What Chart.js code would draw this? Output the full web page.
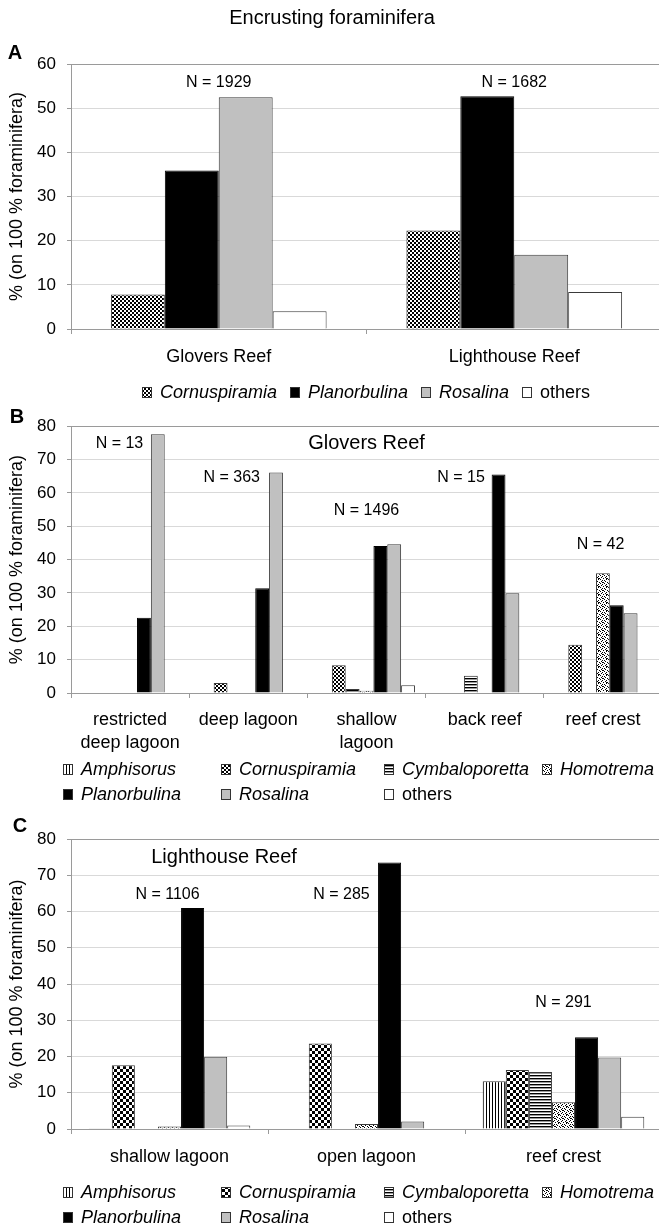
<!DOCTYPE html>
<html>
<head>
<meta charset="utf-8">
<script src="https://cdn.jsdelivr.net/npm/chart.js@4/dist/chart.umd.min.js"></script>
<style>
  html, body { margin: 0; padding: 0; background: #fff; overflow: hidden; }
  #wrap { position: relative; width: 659px; height: 1226px; overflow: hidden; }
  canvas { position: absolute; left: 0; }
</style>
</head>
<body>
<div id="wrap">
  <canvas id="chartA" width="662" height="405" style="top:0px"></canvas>
  <canvas id="chartB" width="662" height="400" style="top:405px"></canvas>
  <canvas id="chartC" width="662" height="421" style="top:805px"></canvas>
</div>
<script>
// ---- data ----
const mainTitle = "Encrusting foraminifera";
const yAxisTitle = "% (on 100 % foraminifera)";

// panel A
const categoriesA = ["Glovers Reef", "Lighthouse Reef"];
const taxaA = ["Cornuspiramia", "Planorbulina", "Rosalina", "others"];
const cornuspiramiaA = [7.8, 22.3];
const planorbulinaA = [35.9, 52.7];
const rosalinaA = [52.5, 16.8];
const othersA = [4.0, 8.4];
const countsA = ["N = 1929", "N = 1682"];
const yTicksA = [0, 10, 20, 30, 40, 50, 60];

// panel B (Glovers Reef)
const taxa = ["Amphisorus", "Cornuspiramia", "Cymbaloporetta", "Homotrema", "Planorbulina", "Rosalina", "others"];
const categoriesB = [["restricted", "deep lagoon"], "deep lagoon", ["shallow", "lagoon"], "back reef", "reef crest"];
const amphisorusB = [0, 0, 0, 0, 0];
const cornuspiramiaB = [0, 3.0, 8.3, 0, 14.5];
const cymbaloporettaB = [0, 0, 1.2, 5.2, 0];
const homotremaB = [0, 0, 0.7, 0, 35.9];
const planorbulinaB = [22.6, 31.4, 44.1, 65.5, 26.3];
const rosalinaB = [77.6, 66.1, 44.6, 29.9, 23.9];
const othersB = [0, 0, 2.3, 0, 0];
const countsB = ["N = 13", "N = 363", "N = 1496", "N = 15", "N = 42"];
const yTicksB = [0, 10, 20, 30, 40, 50, 60, 70, 80];

// panel C (Lighthouse Reef)
const categoriesC = ["shallow lagoon", "open lagoon", "reef crest"];
const amphisorusC = [0.2, 0, 13.2];
const cornuspiramiaC = [17.6, 23.6, 16.3];
const cymbaloporettaC = [0, 0, 15.7];
const homotremaC = [0.7, 1.4, 7.4];
const planorbulinaC = [61.0, 73.5, 25.3];
const rosalinaC = [19.9, 2.1, 19.7];
const othersC = [1.0, 0, 3.4];
const countsC = ["N = 1106", "N = 285", "N = 291"];
const yTicksC = [0, 10, 20, 30, 40, 50, 60, 70, 80];

// ---- styling ----
const FONT = '"Liberation Sans", Arial, sans-serif';
const INK = "#000";
const AXIS = "#9a9a9a";
Chart.defaults.font.family = FONT;
Chart.defaults.color = INK;

function tile(w, h, draw) {
  const c = document.createElement("canvas");
  c.width = w; c.height = h;
  const g = c.getContext("2d");
  g.fillStyle = "#fff"; g.fillRect(0, 0, w, h);
  g.fillStyle = "#000";
  draw(g);
  return g.createPattern(c, "repeat");
}
// speckle cells for the Homotrema fill (a fixed 8x8 tile)
const speckle = [[1, 0], [5, 0], [3, 1], [7, 1], [0, 2], [4, 2], [6, 3], [2, 3], [1, 4], [5, 4],
                 [7, 5], [3, 5], [0, 6], [6, 6], [2, 7], [4, 7], [2, 1], [6, 5]];
function fillSet(cell) {
  return {
    Amphisorus: tile(3, 3, g => g.fillRect(0, 0, 1, 3)),
    Cornuspiramia: tile(cell * 2, cell * 2, g => { g.fillRect(0, 0, cell, cell); g.fillRect(cell, cell, cell, cell); }),
    Cymbaloporetta: tile(3, 3, g => { g.fillRect(0, 0, 3, 1); g.fillStyle = "#999"; g.fillRect(0, 1, 3, 1); }),
    Homotrema: tile(8, 8, g => speckle.forEach(p => g.fillRect(p[0], p[1], 1, 1))),
    Planorbulina: "#000",
    Rosalina: "#c0c0c0",
    others: "#fff"
  };
}

function makeSets(names, series, catPct, cell) {
  const fills = fillSet(cell);
  return names.map((name, i) => ({
    label: name,
    data: series[i],
    backgroundColor: fills[name],
    borderColor: name === "Planorbulina" ? "#000" : "#3a3a3a",
    borderWidth: 1,
    barPercentage: 1,
    categoryPercentage: catPct
  }));
}

function makeScales(yMax, yTicks, xPad, xHeight) {
  return {
    x: {
      grid: { offset: true, drawOnChartArea: false, tickLength: 5, color: AXIS },
      border: { color: AXIS },
      ticks: { color: INK, font: { size: 18, lineHeight: 1.25 }, padding: xPad, maxRotation: 0, autoSkip: false },
      afterFit(s) { s.height = xHeight; }
    },
    y: {
      min: 0, max: yMax,
      afterBuildTicks(s) { s.ticks = yTicks.map(v => ({ value: v })); },
      grid: { color: "#d9d9d9", tickLength: 4, tickColor: AXIS },
      border: { color: AXIS },
      ticks: { color: INK, font: { size: 17 }, padding: 11 },
      title: { display: true, text: yAxisTitle, color: INK, font: { size: 18 }, padding: 6 },
      afterFit(s) { s.width = 71; }
    }
  };
}

// frame, titles, N labels and the gridded legend
const decor = {
  id: "decor",
  beforeDatasetsDraw(chart) {
    const { ctx, chartArea: a } = chart;
    ctx.save();
    ctx.strokeStyle = AXIS; ctx.lineWidth = 1;
    ctx.strokeRect(Math.round(a.left) + 0.5, Math.round(a.top) + 0.5, Math.round(a.right - a.left), Math.round(a.bottom - a.top));
    ctx.restore();
  },
  afterDraw(chart, args, o) {
    const { ctx, scales: { x, y } } = chart;
    ctx.save();
    ctx.fillStyle = INK;
    ctx.textAlign = "center";
    ctx.textBaseline = "alphabetic";
    ctx.font = "bold 20px " + FONT;
    ctx.fillText(o.letter, o.letterAt[0], o.letterAt[1]);
    if (o.title) {
      ctx.font = "20px " + FONT;
      ctx.fillText(o.title, o.titleAt[0], o.titleAt[1]);
    }
    ctx.textBaseline = "middle";
    o.notes.forEach(n => {
      ctx.font = n.size + "px " + FONT;
      ctx.fillText(n.text, x.getPixelForValue(n.at[0]), y.getPixelForValue(n.at[1]));
    });

    const L = o.legend;
    const ds = chart.data.datasets;
    const fontFor = name => (name === "others" ? "" : "italic ") + "18px " + FONT;
    ctx.textAlign = "left";
    L.rows.forEach((row, r) => {
      const yy = L.y[r];
      let xs;
      if (L.cols) {
        xs = row.map((_, k) => L.cols[k]);
      } else {
        const w = row.map(i => { ctx.font = fontFor(ds[i].label); return 18 + ctx.measureText(ds[i].label).width; });
        const total = w.reduce((s, v) => s + v, 0) + L.gap * (row.length - 1);
        let cx = L.center - total / 2;
        xs = w.map(v => { const p = cx; cx += v + L.gap; return p; });
      }
      row.forEach((i, k) => {
        const d = ds[i];
        const bx = Math.round(xs[k]);
        ctx.fillStyle = d.backgroundColor;
        ctx.fillRect(bx, yy - 5, 9, 10);
        ctx.strokeStyle = "#333";
        ctx.strokeRect(bx + 0.5, yy - 5 + 0.5, 9, 10);
        ctx.fillStyle = INK;
        ctx.font = fontFor(d.label);
        ctx.fillText(d.label, bx + 18, yy + 1);
      });
    });
    ctx.restore();
  }
};

function build(id, cats, sets, scales, padding, decorOpts) {
  return new Chart(document.getElementById(id), {
    type: "bar",
    data: { labels: cats, datasets: sets },
    options: {
      responsive: false,
      animation: false,
      layout: { padding: padding },
      plugins: { legend: { display: false }, tooltip: { enabled: false }, decor: decorOpts },
      scales: scales
    },
    plugins: [decor]
  });
}

build("chartA", categoriesA,
  makeSets(taxaA, [cornuspiramiaA, planorbulinaA, rosalinaA, othersA], 0.73, 2),
  makeScales(60, yTicksA, 12, 40),
  { top: 64, left: 0, right: 0, bottom: 36 },
  {
    letter: "A", letterAt: [15, 59],
    title: mainTitle, titleAt: [332, 24],
    notes: countsA.map((t, i) => ({ text: t, at: [i, 55.9], size: 16 })),
    legend: { rows: [[0, 1, 2, 3]], y: [392], center: 366, gap: 13 }
  });

build("chartB", categoriesB,
  makeSets(taxa, [amphisorusB, cornuspiramiaB, cymbaloporettaB, homotremaB, planorbulinaB, rosalinaB, othersB], 0.82, 2),
  makeScales(80, yTicksB, 11, 60),
  { top: 21, left: 0, right: 0, bottom: 52 },
  {
    letter: "B", letterAt: [17, 18],
    notes: [
      { text: countsB[0], at: [-0.09, 74.9], size: 16 },
      { text: countsB[1], at: [0.86, 64.7], size: 16 },
      { text: countsB[2], at: [2, 54.8], size: 16 },
      { text: countsB[3], at: [2.8, 64.7], size: 16 },
      { text: countsB[4], at: [3.98, 44.6], size: 16 },
      { text: "Glovers Reef", at: [2, 74.9], size: 20 }
    ],
    legend: { rows: [[0, 1, 2, 3], [4, 5, 6]], y: [364, 389], cols: [63, 221, 384, 542] }
  });

build("chartC", categoriesC,
  makeSets(taxa, [amphisorusC, cornuspiramiaC, cymbaloporettaC, homotremaC, planorbulinaC, rosalinaC, othersC], 0.82, 3),
  makeScales(80, yTicksC, 12, 40),
  { top: 34, left: 0, right: 0, bottom: 57 },
  {
    letter: "C", letterAt: [20, 27],
    notes: [
      { text: countsC[0], at: [-0.01, 64.8], size: 16 },
      { text: countsC[1], at: [0.873, 64.8], size: 16 },
      { text: countsC[2], at: [2, 34.8], size: 16 },
      { text: "Lighthouse Reef", at: [0.277, 74.8], size: 20 }
    ],
    legend: { rows: [[0, 1, 2, 3], [4, 5, 6]], y: [387, 412], cols: [63, 221, 384, 542] }
  });
</script>
</body>
</html>
